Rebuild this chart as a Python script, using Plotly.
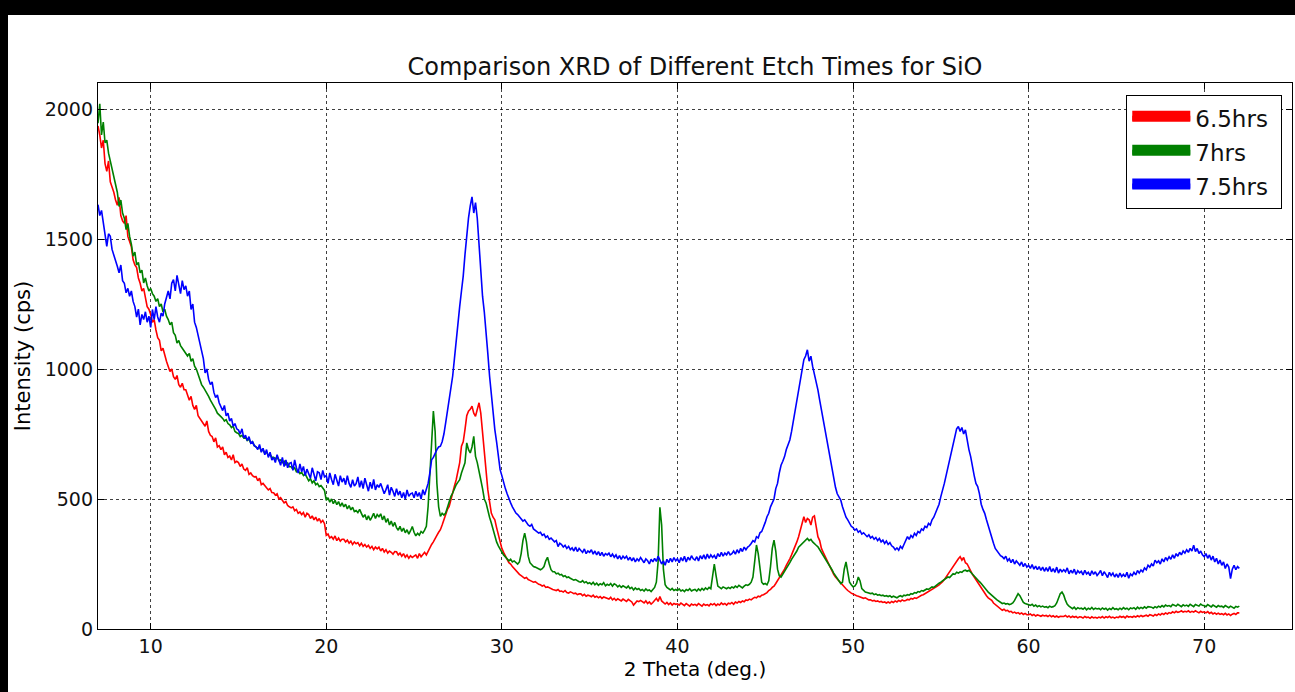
import plotly.graph_objects as go

# 2-theta sampling grid (deg.)
THETA_START = 7.0
THETA_STEP = 0.1

SERIES_NAMES = ["6.5hrs", "7hrs", "7.5hrs"]

# Intensity (cps) for 6.5 hrs etch, 7.0 .. 72.0 deg, step 0.1
red_6_5hrs = [
    1935, 1900, 1850, 1880, 1790, 1760, 1800, 1720, 1700, 1680,
    1650, 1630, 1660, 1590, 1570, 1560, 1590, 1510, 1490, 1470,
    1420, 1400, 1390, 1350, 1330, 1300, 1310, 1270, 1240, 1230,
    1210, 1180, 1190, 1150, 1120, 1110, 1070, 1080, 1050, 1030,
    1010, 990, 1000, 970, 960, 975, 940, 930, 945, 920,
    920, 900, 880, 895, 860, 845, 860, 820, 810, 800,
    795, 780, 800, 760, 745, 740, 720, 735, 700, 705,
    690, 700, 670, 680, 660, 665, 650, 670, 640, 645,
    640, 625, 635, 615, 610, 620, 595, 600, 590, 585,
    586, 570, 580, 555, 560, 550, 545, 535, 540, 525,
    524, 515, 520, 500, 505, 496, 485, 490, 475, 470,
    466, 470, 455, 460, 445, 450, 440, 448, 430, 445,
    440, 425, 435, 420, 430, 415, 425, 410, 418, 405,
    360, 365, 350, 355, 345, 358, 340, 350, 338, 345,
    345, 335, 342, 330, 338, 325, 335, 328, 332, 320,
    330, 318, 325, 315, 322, 310, 318, 305, 315, 308,
    315, 300, 310, 296, 305, 292, 300, 295, 288, 298,
    297, 285, 292, 280, 290, 276, 285, 272, 282, 275,
    280, 285, 272, 290, 278, 288, 295, 285, 300, 317,
    325, 335, 350, 360, 372, 382, 400, 420, 440, 460,
    471, 500, 525, 550, 574, 610, 640, 703, 720, 767,
    820, 838, 845, 857, 830, 818, 850, 870, 830, 754,
    660, 610, 536, 490, 446, 430, 420, 390, 360, 330,
    310, 295, 279, 268, 255, 250, 240, 232, 228, 218,
    210, 205, 200, 195, 198, 190, 187, 185, 180, 182,
    175, 172, 170, 165, 168, 160, 162, 158, 155, 152,
    150, 148, 152, 145, 146, 142, 148, 140, 138, 143,
    140, 136, 138, 132, 135, 135, 128, 133, 126, 130,
    128, 124, 130, 122, 126, 120, 125, 118, 123, 120,
    120, 115, 122, 112, 118, 110, 116, 113, 108, 115,
    112, 106, 114, 110, 104, 92, 100, 108, 105, 110,
    105, 100, 108, 98, 104, 96, 102, 110, 118, 106,
    125, 108, 100, 96, 102, 94, 100, 92, 98, 95,
    97, 92, 100, 94, 90, 98, 93, 88, 96, 92,
    95, 90, 98, 92, 88, 96, 91, 94, 89, 97,
    93, 98, 90, 96, 92, 100, 94, 98, 92, 99,
    97, 102, 95, 104, 100, 106, 102, 108, 105, 112,
    110, 115, 112, 118, 122, 120, 126, 124, 130, 132,
    135, 140, 148, 152, 160, 165, 175, 185, 195, 205,
    220, 230, 245, 255, 270, 285, 300, 320, 335, 355,
    380, 400, 432, 410, 425, 420, 400, 430, 435, 395,
    355, 340, 310, 295, 280, 265, 252, 240, 225, 210,
    200, 192, 185, 175, 168, 160, 155, 148, 142, 138,
    135, 130, 128, 126, 124, 123, 118, 120, 115, 112,
    112, 108, 110, 106, 108, 104, 106, 102, 104, 100,
    104, 100, 106, 102, 108, 104, 110, 106, 112, 108,
    110, 114, 112, 118, 115, 120, 118, 123, 126, 130,
    132, 136, 140, 142, 148, 150, 155, 160, 165, 170,
    175, 182, 190, 200, 210, 220, 235, 240, 250, 262,
    270, 278, 265, 275, 255, 250, 235, 220, 210, 200,
    190, 178, 165, 155, 145, 135, 128, 120, 115, 110,
    100, 95, 90, 85, 80, 72, 76, 70, 72, 66,
    68, 62, 65, 60, 63, 58, 62, 56, 60, 55,
    55, 58, 52, 56, 50, 54, 52, 49, 53, 50,
    52, 48, 53, 47, 51, 46, 50, 45, 49, 47,
    48, 52, 46, 50, 44, 49, 45, 48, 43, 47,
    46, 42, 48, 44, 46, 41, 47, 43, 45, 42,
    46, 43, 48, 42, 47, 44, 49, 43, 46, 42,
    46, 44, 49, 45, 48, 43, 50, 46, 48, 45,
    49, 46, 51, 47, 52, 48, 50, 53, 49, 55,
    53, 50, 56, 52, 58, 54, 60, 56, 62, 58,
    63, 60, 66, 62, 68, 64, 66, 70, 65, 68,
    66, 70, 64, 68, 65, 70, 66, 62, 68, 64,
    66, 62, 67, 60, 64, 58, 62, 57, 61, 56,
    59, 55, 60, 54, 58, 52, 57, 60, 56, 62,
    62,
]

# Intensity (cps) for 7 hrs etch
green_7hrs = [
    1945, 2020, 1900, 1950, 1870, 1880, 1830, 1800, 1760, 1728,
    1700, 1680, 1625, 1650, 1600, 1580, 1536, 1560, 1510, 1480,
    1434, 1450, 1400, 1410, 1370, 1380, 1331, 1350, 1320, 1300,
    1310, 1290, 1280, 1260, 1270, 1240, 1250, 1220, 1230, 1203,
    1190, 1170, 1180, 1140, 1130, 1100, 1110, 1090, 1080, 1070,
    1062, 1050, 1060, 1030, 1040, 1011, 1000, 980, 960, 940,
    930, 920, 910, 895, 880, 870, 860, 845, 830, 825,
    817, 810, 800, 805, 790, 785, 775, 780, 760, 755,
    752, 740, 745, 735, 738, 725, 730, 715, 720, 705,
    701, 695, 700, 685, 690, 675, 680, 668, 672, 660,
    660, 655, 662, 648, 650, 640, 645, 632, 638, 624,
    624, 615, 620, 605, 610, 598, 602, 590, 596, 582,
    570, 578, 562, 570, 555, 560, 548, 552, 540, 533,
    495, 505, 488, 500, 482, 495, 478, 490, 472, 485,
    470, 480, 462, 475, 458, 468, 452, 456, 448, 460,
    445, 430, 440, 420, 435, 418, 430, 445, 425, 440,
    432, 443, 420, 435, 410, 425, 400, 415, 395, 410,
    390, 380, 395, 375, 388, 370, 382, 365, 378, 394,
    372, 358, 368, 361, 375, 369, 380, 395, 471, 600,
    740, 838, 760, 560, 470, 433, 445, 438, 446, 470,
    490, 510, 523, 540, 555, 565, 574, 600, 620, 639,
    716, 690, 677, 700, 741, 664, 640, 600, 574, 540,
    500, 485, 450, 430, 408, 380, 356, 335, 320, 305,
    296, 285, 278, 270, 262, 268, 258, 262, 255, 250,
    258, 290, 340, 369, 335, 280, 255, 248, 240, 238,
    235, 230, 228, 232, 240, 262, 276, 250, 228, 220,
    220, 212, 215, 208, 210, 202, 205, 198, 200, 195,
    192, 188, 190, 185, 182, 180, 186, 178, 182, 175,
    178, 172, 180, 170, 176, 168, 174, 170, 178, 166,
    172, 168, 175, 165, 174, 170, 162, 168, 160, 166,
    162, 158, 165, 155, 160, 150, 158, 152, 156, 148,
    152, 146, 154, 148, 150, 144, 152, 160, 180, 260,
    468, 400, 230, 170, 160, 155, 150, 156, 148, 152,
    148, 154, 146, 150, 144, 152, 148, 155, 146, 150,
    152, 146, 154, 148, 156, 150, 158, 152, 160, 155,
    200, 250, 205, 165, 160, 155, 162, 158, 155, 160,
    156, 162, 158, 165, 160, 168, 162, 158, 165, 170,
    168, 172, 180, 200, 260, 323, 290, 220, 180, 172,
    175, 170, 185, 240, 310, 342, 300, 230, 205, 200,
    210, 222, 235, 245, 255, 268, 278, 290, 300, 315,
    322, 330, 338, 345, 348, 340, 345, 335, 330, 322,
    316, 305, 295, 285, 275, 265, 252, 240, 228, 215,
    205, 195, 185, 175, 180, 230, 258, 220, 180, 170,
    162, 165, 175, 200, 185, 155, 148, 142, 140, 138,
    136, 138, 132, 135, 130, 132, 128, 130, 126, 128,
    125, 128, 122, 126, 123, 120, 125, 128, 124, 130,
    128, 132, 130, 136, 134, 140, 138, 144, 142, 148,
    146, 150, 154, 152, 158, 162, 160, 166, 172, 176,
    180, 185, 190, 196, 200, 198, 206, 213, 210, 218,
    215, 220, 218, 224, 226, 222, 226, 218, 212, 205,
    198, 190, 182, 175, 168, 160, 150, 142, 135, 128,
    123, 118, 112, 108, 104, 98, 100, 96, 98, 94,
    96, 100, 110, 125, 136, 128, 112, 102, 98, 95,
    92, 91, 95, 88, 92, 86, 90, 85, 88, 84,
    86, 82, 88, 84, 86, 90, 100, 120, 136, 142,
    130, 110, 95, 88, 82, 78, 84, 76, 82, 78,
    80, 76, 82, 74, 80, 76, 83, 75, 80, 77,
    79, 74, 81, 76, 80, 73, 79, 75, 82, 76,
    78, 74, 80, 75, 82, 77, 80, 74, 81, 78,
    82, 76, 84, 78, 83, 79, 85, 80, 86, 85,
    84, 80, 86, 82, 88, 84, 90, 85, 92, 88,
    90, 86, 94, 91, 88, 95, 90, 86, 93, 89,
    92, 87, 95, 90, 86, 94, 91, 88, 96, 91,
    90, 86, 94, 88, 85, 92, 87, 84, 90, 86,
    88, 83, 90, 85, 82, 88, 85, 80, 87, 84,
    88,
]

# Intensity (cps) for 7.5 hrs etch
blue_7_5hrs = [
    1632, 1590, 1610, 1561, 1530, 1472, 1520, 1510, 1460, 1440,
    1420, 1395, 1370, 1400, 1340, 1330, 1293, 1310, 1280, 1300,
    1260, 1240, 1200, 1230, 1170, 1210, 1190, 1220, 1180, 1203,
    1160, 1229, 1190, 1240, 1200, 1180, 1215, 1203, 1250, 1280,
    1300, 1270, 1330, 1344, 1300, 1360, 1320, 1290, 1340, 1305,
    1320, 1280, 1300, 1229, 1250, 1180, 1160, 1130, 1101, 1060,
    1040, 985, 1000, 960, 940, 950, 910, 890, 900, 870,
    856, 840, 860, 820, 830, 800, 810, 780, 790, 770,
    765, 750, 770, 735, 745, 725, 740, 715, 720, 705,
    701, 690, 710, 680, 695, 670, 690, 660, 680, 650,
    660, 640, 670, 645, 630, 660, 625, 650, 620, 637,
    640, 610, 650, 620, 600, 635, 605, 625, 590, 615,
    600, 580, 620, 590, 570, 605, 601, 575, 610, 585,
    590, 560, 600, 575, 555, 595, 570, 550, 590, 565,
    580, 555, 590, 560, 545, 574, 550, 559, 585, 545,
    570, 540, 580, 550, 530, 565, 540, 575, 535, 555,
    545, 560, 540, 520, 536, 555, 515, 545, 530, 510,
    540, 515, 530, 505, 525, 500, 535, 510, 520, 523,
    505, 530, 510, 525, 500, 536, 515, 536, 560, 600,
    651, 660, 678, 690, 700, 703, 720, 750, 793, 840,
    896, 930, 973, 1040, 1114, 1180, 1241, 1300, 1357, 1440,
    1527, 1580, 1627, 1662, 1600, 1640, 1580, 1473, 1380, 1280,
    1220, 1153, 1060, 973, 900, 830, 767, 720, 660, 613,
    590, 562, 540, 520, 500, 485, 470, 455, 446, 440,
    430, 425, 415, 420, 408, 400, 395, 402, 385, 380,
    375, 369, 372, 360, 365, 352, 358, 345, 350, 343,
    335, 340, 317, 330, 325, 315, 322, 310, 318, 305,
    312, 300, 315, 298, 310, 302, 295, 308, 290, 300,
    295, 305, 288, 300, 285, 298, 282, 295, 280, 290,
    285, 292, 278, 288, 276, 285, 270, 282, 268, 280,
    272, 280, 265, 276, 262, 274, 258, 270, 262, 275,
    265, 255, 270, 263, 250, 268, 258, 272, 260, 280,
    265, 250, 262, 245, 268, 255, 272, 258, 275, 262,
    270, 255, 275, 262, 280, 258, 276, 265, 282, 270,
    265, 278, 262, 282, 270, 285, 268, 288, 272, 285,
    275, 283, 270, 290, 278, 295, 280, 292, 285, 298,
    285, 290, 300, 288, 305, 292, 310, 298, 315, 305,
    315, 320, 329, 340, 335, 355, 350, 370, 375, 391,
    410, 432, 445, 470, 483, 500, 540, 560, 600, 630,
    645, 663, 690, 705, 727, 760, 800, 840, 882, 920,
    960, 1000, 1036, 1050, 1074, 1030, 1049, 1010, 980, 959,
    920, 880, 843, 800, 760, 727, 690, 650, 612, 570,
    545, 520, 505, 496, 470, 450, 430, 420, 406, 395,
    390, 380, 385, 372, 378, 365, 370, 360, 355, 362,
    350, 356, 345, 352, 340, 348, 335, 342, 329, 338,
    325, 332, 320, 315, 305, 312, 303, 318, 310, 325,
    340, 355, 345, 360, 352, 368, 360, 375, 370, 385,
    380, 395, 390, 406, 400, 420, 430, 445, 460, 480,
    509, 530, 560, 590, 620, 650, 690, 720, 750, 770,
    779, 760, 775, 750, 766, 720, 690, 663, 620, 590,
    560, 548, 520, 480, 460, 445, 420, 395, 370, 355,
    330, 310, 300, 290, 282, 278, 270, 280, 262, 270,
    255, 268, 250, 262, 252, 245, 258, 240, 252, 238,
    245, 233, 248, 230, 242, 228, 240, 225, 238, 222,
    236, 222, 240, 220, 232, 218, 238, 215, 230, 220,
    228, 220, 235, 212, 226, 215, 230, 210, 224, 216,
    222, 208, 226, 212, 218, 205, 224, 210, 220, 206,
    214, 225, 205, 220, 210, 198, 218, 206, 215, 200,
    212, 198, 215, 202, 210, 201, 218, 195, 212, 205,
    218, 208, 225, 215, 227, 220, 235, 228, 245, 238,
    250, 242, 265, 255, 262, 250, 270, 258, 275, 265,
    278, 268, 285, 272, 290, 280, 295, 285, 300, 292,
    305, 295, 310, 300, 322, 298, 310, 290, 300, 285,
    278, 290, 272, 285, 265, 280, 258, 272, 250, 265,
    245, 258, 233, 250, 238, 194, 230, 245, 228, 240,
    233,
]

X_TICKS = [10, 20, 30, 40, 50, 60, 70]
Y_TICKS = [0, 500, 1000, 1500, 2000]

COLORS = ["#ff0000", "#008000", "#0000ff"]
FONT = "DejaVu Sans, Liberation Sans, sans-serif"

fig = go.Figure()
for name, vals, col in zip(SERIES_NAMES, [red_6_5hrs, green_7hrs, blue_7_5hrs], COLORS):
    fig.add_trace(go.Scatter(
        x0=THETA_START, dx=THETA_STEP, y=vals, mode="lines", name=name,
        line=dict(color=col, width=1.6), showlegend=False, hoverinfo="skip",
    ))
# legend patches (matplotlib-style filled rectangles)
for name, col in zip(SERIES_NAMES, COLORS):
    fig.add_trace(go.Scatter(
        x=[None], y=[None], mode="lines", name=name + "\u00a0", legendgroup=name,
        line=dict(color=col, width=10), fill="toself", fillcolor=col,
        showlegend=True,
    ))

axis_common = dict(
    showline=True, linecolor="black", linewidth=1.3, mirror="allticks",
    ticks="inside", ticklen=6, tickwidth=1, tickcolor="black",
    showgrid=True, gridcolor="rgba(0,0,0,0.75)", griddash="dot", gridwidth=1,
    zeroline=False, tickfont=dict(size=19, color="#111111", family=FONT),
)

fig.update_layout(
    width=1295, height=692,
    margin=dict(l=98, r=3, t=83, b=63),
    paper_bgcolor="white", plot_bgcolor="white",
    font=dict(family=FONT, color="black"),
    title=dict(text="Comparison XRD of Different Etch Times for SiO",
               x=0.5, xref="paper", xanchor="center",
               y=1 - 67 / 692, yanchor="middle",
               font=dict(size=24, color="#111111", family=FONT)),
    xaxis=dict(range=[7, 75], tickvals=X_TICKS,
               title=dict(text="2 Theta (deg.)", font=dict(size=20), standoff=6),
               **axis_common),
    yaxis=dict(range=[0, 2100], tickvals=Y_TICKS,
               title=dict(text="Intensity (cps)", font=dict(size=21), standoff=8),
               **axis_common),
    legend=dict(x=0.9916, y=0.978, xanchor="right", yanchor="top",
                bgcolor="white", bordercolor="black", borderwidth=1.3,
                font=dict(size=23, color="#111111", family=FONT),
                itemwidth=58, tracegroupgap=1),
    shapes=[
        dict(type="rect", xref="paper", yref="paper",
             x0=-0.09, x1=1.01, y0=(629 - 15) / 546, y1=1.2,
             fillcolor="black", line=dict(width=0), layer="above"),
        dict(type="rect", xref="paper", yref="paper",
             x0=-0.09, x1=(8 - 98) / 1194, y0=-0.2, y1=1.2,
             fillcolor="black", line=dict(width=0), layer="above"),
    ],
)

fig.write_html(
    "out.html",
    config={"displayModeBar": False},
    post_script="document.body.style.margin='0px';document.body.style.overflow='hidden';",
)
